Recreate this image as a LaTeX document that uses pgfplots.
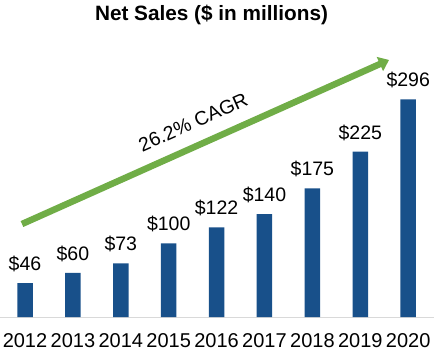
\documentclass[border=0pt]{standalone}
\usepackage{fontspec}
\setmainfont{Liberation Sans}
\usepackage{pgfplots}
\pgfplotsset{compat=1.18}
\usetikzlibrary{arrows.meta}
\definecolor{barblue}{RGB}{24,80,138}
\definecolor{arrowgreen}{RGB}{112,173,71}
\definecolor{axisgray}{RGB}{217,217,217}
\begin{document}
\begin{tikzpicture}
\useasboundingbox (0,0) rectangle (434bp,356bp);
\begin{axis}[
  at={(0bp,39bp)}, anchor=south west,
  scale only axis, width=434bp, height=317bp,
  xmin=-0.522, xmax=8.539, ymin=0, ymax=431.3,
  axis x line=bottom, axis y line=none,
  axis line style={axisgray, line width=1bp, -},
  x axis line style={-},
  xtick={0,...,8},
  xticklabels={2012,2013,2014,2015,2016,2017,2018,2019,2020},
  major tick length=0pt,
  xticklabel style={font=\fontsize{20bp}{24bp}\selectfont, anchor=base, inner sep=0pt, yshift=-30.7bp},
  ytick=\empty,
  /pgf/number format/assume math mode=true,
  clip=false,
]
\addplot[ybar, bar width=15.5bp, fill=barblue, draw=none,
  nodes near coords={\$\pgfmathprintnumber{\pgfplotspointmeta}},
  every node near coord/.append style={font=\fontsize{19.5bp}{23bp}\selectfont, text=black, anchor=base, inner sep=0pt, yshift=12.6bp},
] coordinates {(0,46) (1,60) (2,73) (3,100) (4,122) (5,140) (6,175) (7,225) (8,296)};
\draw[arrowgreen, line width=6.5bp, -{Triangle[length=10bp,width=15bp]}] (axis cs:-0.063,126.5) -- (axis cs:7.60,349.7);
\node[rotate=24, font=\fontsize{19.5bp}{23bp}\selectfont] at (axis cs:3.51,265) {26.2\% CAGR};
\end{axis}
\node[font=\fontsize{20.75bp}{25bp}\selectfont\bfseries] at (211.5bp,341bp) {Net Sales (\$ in millions)};
\end{tikzpicture}
\end{document}
